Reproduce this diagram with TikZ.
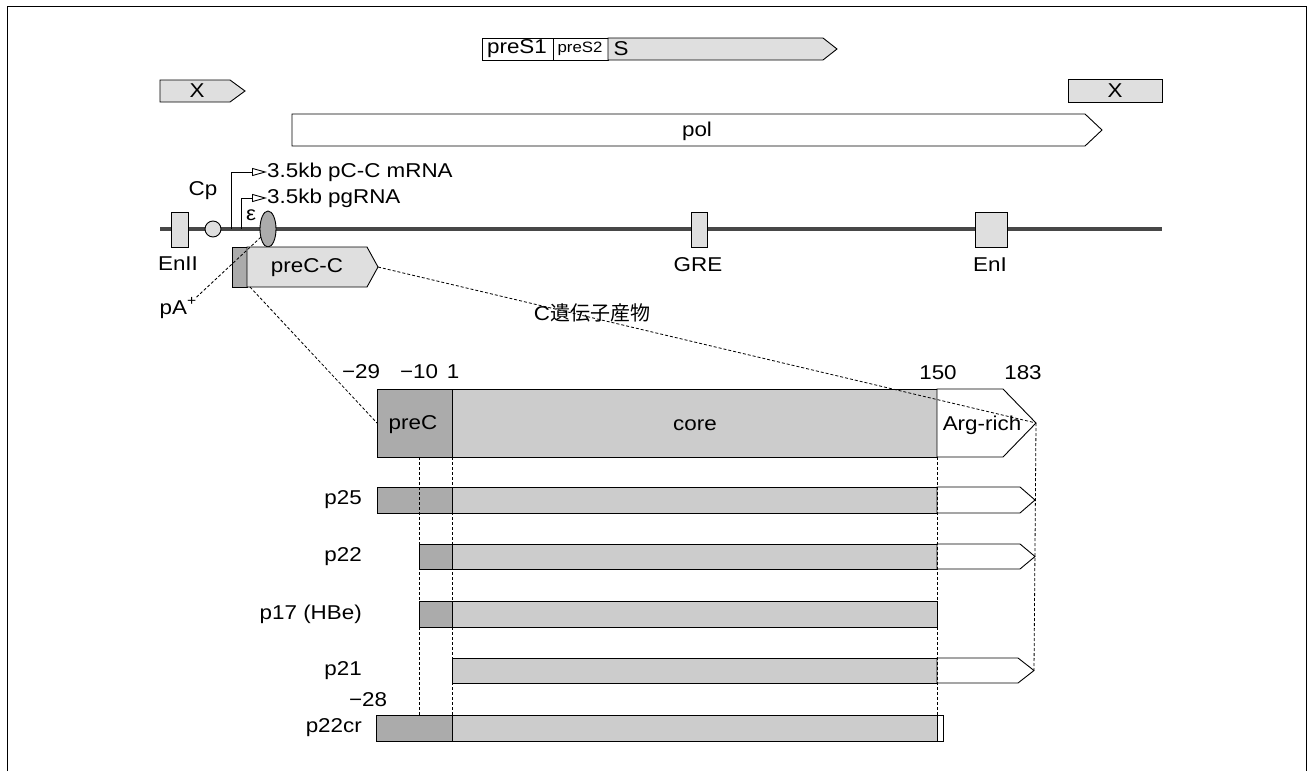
\documentclass[tikz,border=0pt]{standalone}
\usepackage{fontspec}
\setmainfont{Liberation Sans}[FakeStretch=1.12]
\newfontfamily\jpfont{Noto Sans CJK JP}
\usetikzlibrary{arrows.meta}
\newcommand{\garrow}[6]{\draw[#1] (#2,#5) -- (#3,#5) -- (#4,{(#5+#6)/2}) -- (#3,#6) -- (#2,#6) -- cycle;}
\tikzset{
 ol/.style={draw=black, line width=0.9pt, line join=miter},
 lt/.style={ol, fill=gray!25},
 md/.style={ol, fill=gray!40},
 dk/.style={ol, fill=gray!66},
 wh/.style={ol, fill=white},
 dsh/.style={draw=black, line width=0.8pt, dash pattern=on 3pt off 2pt},
 lbl/.style={inner sep=0pt, font=\fontsize{20}{24}\selectfont},
 sml/.style={inner sep=0pt, font=\fontsize{15}{18}\selectfont},
 prom/.style={line width=0.9pt, -{Triangle[open,length=15pt,width=8pt]}},
}
\begin{document}
\begin{tikzpicture}[x=1pt,y=-1pt]
\useasboundingbox (0,0) rectangle (1314,771);
% frame
\draw[line width=1pt] (7,771) -- (7,6) -- (1306,6) -- (1306,771);
% preS / S
\draw[wh] (482,38) rectangle (553,60);
\draw[wh] (553,38) rectangle (608,60);
\garrow{lt}{608}{823}{837}{38}{60}
\node[lbl] (preS1) at (517,49) {preS1};
\node[sml] (preS2) at (580,49) {preS2};
\node[lbl] (Slab) at (621,49) {S};
% X boxes
\garrow{lt}{160}{230}{245}{80}{102}
\node[lbl] (X1) at (197,91) {X};
\draw[lt] (1068,79) rectangle (1162,102);
\node[lbl] (X2) at (1115,91) {X};
% pol
\garrow{wh}{292}{1085}{1102}{114}{146}
\node[lbl] (pol) at (697,131) {pol};
% genome line
\draw[line width=3.5pt, black!72] (160,229) -- (1162,229);
\draw[lt] (171,212) rectangle (188,247);
\node[lbl] (EnII) at (178,264) {EnII};
\draw[lt] (213,229) circle (8);
\node[lbl] (Cp) at (203,191) {Cp};
\coordinate (p1) at (231,229);
\coordinate (p2) at (241,229);
\node[lbl, anchor=west] (mrna) at (267,172) {3.5kb pC-C mRNA};
\node[lbl, anchor=west] (pg) at (267,198) {3.5kb pgRNA};
\draw[prom] (p1) |- (mrna.west);
\draw[prom] (p2) |- (pg.west);
\node[lbl] (eps) at (251,215) {ε};
\draw[dk] (268,229) ellipse (8 and 18);
\coordinate (ellsw) at (261,237);
\draw[lt] (691,212) rectangle (707,247);
\node[lbl] (GRE) at (698,265) {GRE};
\draw[lt] (975,212) rectangle (1007,247);
\node[lbl] (EnI) at (990,265) {EnI};
% preC-C
\draw[dk] (232,247) rectangle (247,287);
\garrow{lt}{247}{367}{378}{247}{287}
\coordinate (pcctip) at (378,267);
\coordinate (pccbl) at (250,287);
\node[lbl] (preCC) at (307,268) {preC-C};
\node[lbl] (pA) at (178,308) {pA\raisebox{0.45em}{\fontsize{14}{14}\selectfont +}};
\draw[dsh] (pA.north east) -- (ellsw);
% numbers
\node[lbl] (n29) at (361,372) {−29};
\node[lbl] (n10) at (419,372) {−10};
\node[lbl] (n1) at (453,372) {1};
\node[lbl] (n150) at (938,373) {150};
\node[lbl] (n183) at (1023,373) {183};
% top bar
\draw[dk] (377,389) rectangle (452,457);
\draw[md] (452,389) rectangle (937,457);
\garrow{wh}{937}{1003}{1036}{389}{457}
\coordinate (argtip) at (1036,423);
\coordinate (precl) at (377,423);
\node[lbl] (preClab) at (413,425) {preC};
\node[lbl] (core) at (695,425) {core};
\node[lbl] (arg) at (982,425) {Arg-rich};
% p25
\draw[dk] (377,487) rectangle (452,513);
\draw[md] (452,487) rectangle (937,513);
\garrow{wh}{937}{1020}{1035}{487}{513}
\node[lbl, anchor=east] (p25) at (362,500) {p25};
% p22
\draw[dk] (419,544) rectangle (452,569);
\draw[md] (452,544) rectangle (937,569);
\garrow{wh}{937}{1020}{1035}{544}{569}
\node[lbl, anchor=east] (p22) at (362,557) {p22};
% p17
\draw[dk] (419,601) rectangle (452,627);
\draw[md] (452,601) rectangle (937,627);
\node[lbl, anchor=east] (p17) at (362,614) {p17 (HBe)};
% p21
\draw[md] (452,658) rectangle (937,683);
\garrow{wh}{937}{1018}{1034}{658}{683}
\coordinate (p21tip) at (1034,670);
\node[lbl, anchor=east] (p21) at (362,671) {p21};
\node[lbl] (n28) at (368,700) {−28};
% p22cr
\draw[dk] (376,715) rectangle (452,741);
\draw[md] (452,715) rectangle (937,741);
\draw[wh] (937,715) rectangle (943,741);
\node[lbl, anchor=east] (p22cr) at (362,728) {p22cr};
% dashed guides
\coordinate (a1) at (419,457); \coordinate (a2) at (419,715);
\coordinate (b1) at (452,457); \coordinate (b2) at (452,715);
\coordinate (c1) at (937,457); \coordinate (c2) at (937,715);
\draw[dsh] (a1) -- (a2);
\draw[dsh] (b1) -- (b2);
\draw[dsh] (c1) -- (c2);
\draw[dsh] (argtip) -- (p21tip);
\draw[dsh] (pccbl) -- (precl);
\draw[dsh] (pcctip) -- (argtip);
\node[lbl] (Cgene) at (592,313) {C\jpfont 遺伝子産物};
\end{tikzpicture}
\end{document}
